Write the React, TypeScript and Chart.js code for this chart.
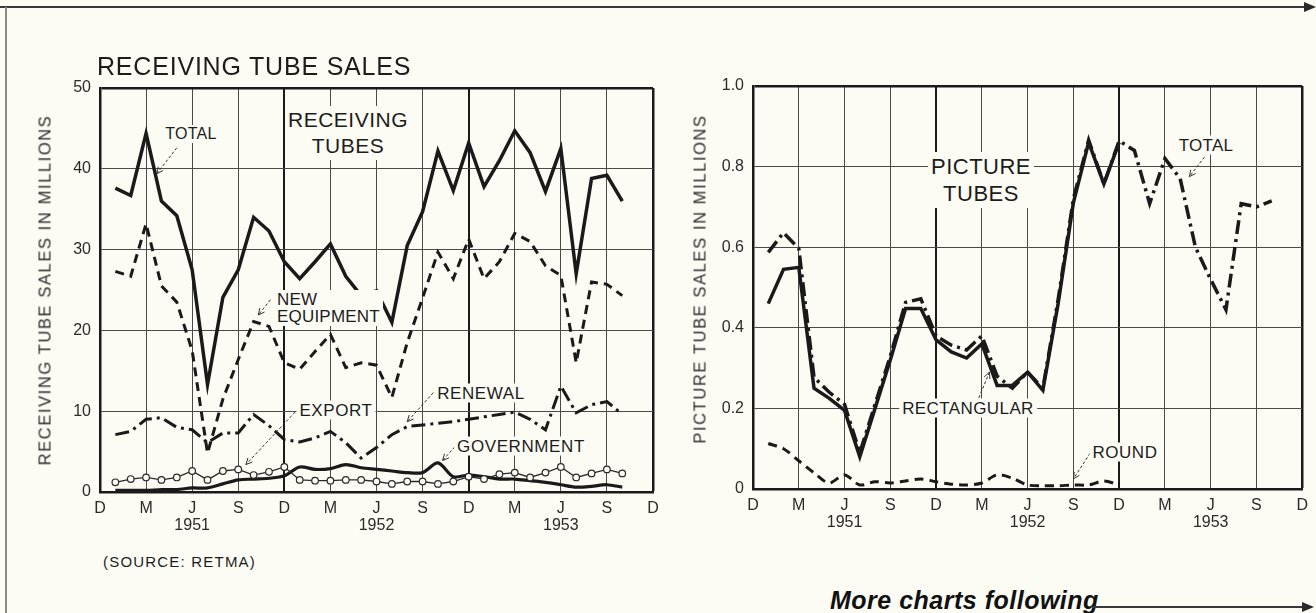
import React, { useEffect, useRef } from 'react';
import { Chart, registerables } from 'chart.js';

Chart.register(...registerables);

// ---------- data ----------
const MONTHS = [
  'Dec 1950',
  'Jan 1951', 'Feb 1951', 'Mar 1951', 'Apr 1951', 'May 1951', 'Jun 1951',
  'Jul 1951', 'Aug 1951', 'Sep 1951', 'Oct 1951', 'Nov 1951', 'Dec 1951',
  'Jan 1952', 'Feb 1952', 'Mar 1952', 'Apr 1952', 'May 1952', 'Jun 1952',
  'Jul 1952', 'Aug 1952', 'Sep 1952', 'Oct 1952', 'Nov 1952', 'Dec 1952',
  'Jan 1953', 'Feb 1953', 'Mar 1953', 'Apr 1953', 'May 1953', 'Jun 1953',
  'Jul 1953', 'Aug 1953', 'Sep 1953', 'Oct 1953', 'Nov 1953', 'Dec 1953',
];
const QUARTER_TICKS = ['D', 'M', 'J', 'S'];
const YEAR_TICKS = ['1951', '1952', '1953'];
const FIRST_MONTH = 1; // every series starts at Jan 1951

// Receiving tubes, millions (Jan 1951 - Oct 1953)
const RECEIVING_TOTAL = [
  37.6, 36.7, 44.4, 36.0, 34.2, 27.5, 13.3, 24.1, 27.5, 34.0, 32.3, 28.5,
  26.4, 28.5, 30.7, 26.7, 24.3, 24.9, 21.0, 30.5, 34.7, 42.2, 37.3, 43.2,
  37.8, 41.0, 44.7, 42.0, 37.2, 42.5, 27.0, 38.8, 39.2, 36.0,
];
const NEW_EQUIPMENT = [
  27.3, 26.7, 33.2, 25.5, 23.5, 17.5, 4.8, 11.5, 16.4, 21.1, 20.5, 16.0,
  15.2, 17.4, 19.5, 15.4, 16.0, 15.7, 11.7, 18.5, 24.0, 29.7, 26.4, 31.3,
  26.4, 28.5, 32.0, 31.0, 28.0, 26.8, 16.0, 26.0, 25.7, 24.3,
];
const RENEWAL = [
  7.1, 7.5, 9.0, 9.2, 8.0, 7.7, 6.1, 7.3, 7.3, 9.6, 8.2, 6.5,
  6.2, 6.7, 7.5, 6.1, 4.2, 5.5, 7.1, 8.1, 8.3, 8.5, 8.7, 9.0,
  9.3, 9.6, 9.9, 9.0, 7.7, 13.1, 9.8, 10.8, 11.2, 9.6,
];
const EXPORT = [
  1.2, 1.6, 1.8, 1.5, 1.8, 2.6, 1.5, 2.6, 2.8, 2.1, 2.5, 3.1,
  1.5, 1.4, 1.4, 1.5, 1.5, 1.3, 1.0, 1.3, 1.3, 1.0, 1.3, 1.9,
  1.6, 2.2, 2.4, 1.8, 2.4, 3.1, 1.8, 2.3, 2.8, 2.3,
];
const GOVERNMENT = [
  0.2, 0.2, 0.2, 0.3, 0.3, 0.5, 0.5, 1.0, 1.5, 1.6, 1.7, 2.0,
  3.1, 2.8, 2.9, 3.4, 3.0, 2.8, 2.6, 2.4, 2.4, 3.6, 1.9, 2.1,
  1.9, 1.6, 1.6, 1.4, 1.2, 0.9, 0.6, 0.7, 0.9, 0.6,
];

// Picture tubes, millions
const PICTURE_TOTAL = [
  0.587, 0.636, 0.597, 0.277, 0.24, 0.21, 0.09, 0.21, 0.33, 0.463, 0.472, 0.38,
  0.357, 0.345, 0.38, 0.28, 0.25, 0.29, 0.25, 0.47, 0.72, 0.866, 0.757, 0.864,
  0.84, 0.708, 0.82, 0.77, 0.6, 0.52, 0.445, 0.708, 0.7, 0.715,
];
const RECTANGULAR = [
  0.46, 0.545, 0.55, 0.25, 0.225, 0.195, 0.08, 0.2, 0.32, 0.448, 0.448, 0.37,
  0.34, 0.325, 0.36, 0.257, 0.257, 0.29, 0.245, 0.46, 0.71, 0.86, 0.757, 0.86,
];
const ROUND = [
  0.113, 0.1, 0.07, 0.04, 0.015, 0.035, 0.01, 0.018, 0.015, 0.02, 0.025, 0.018,
  0.012, 0.01, 0.015, 0.035, 0.027, 0.01, 0.008, 0.008, 0.01, 0.01, 0.02, 0.01,
];

// ---------- style ----------
const BG = '#fcfcf5';
const INK = '#1a1a1a';
const GRID = '#4a4a4a';
const FONT = "'Liberation Sans', Arial, sans-serif";

const pad = (vals: number[]) =>
  MONTHS.map((_, i) =>
    i >= FIRST_MONTH && i < FIRST_MONTH + vals.length ? vals[i - FIRST_MONTH] : null
  );

type Leader = { from: [number, number]; to: [number, number] };

const makeLeaderPlugin = (items: Leader[]) => ({
  id: 'leaders',
  afterDatasetsDraw(chart: any) {
    const { ctx, scales } = chart;
    const xs = scales.x;
    const ys = scales.y;
    ctx.save();
    ctx.strokeStyle = '#333';
    ctx.lineWidth = 1;
    for (const it of items) {
      const x1 = xs.getPixelForValue(it.from[0]);
      const y1 = ys.getPixelForValue(it.from[1]);
      const x2 = xs.getPixelForValue(it.to[0]);
      const y2 = ys.getPixelForValue(it.to[1]);
      ctx.setLineDash([3, 2]);
      ctx.beginPath();
      ctx.moveTo(x1, y1);
      ctx.lineTo(x2, y2);
      ctx.stroke();
      const a = Math.atan2(y2 - y1, x2 - x1);
      ctx.setLineDash([]);
      ctx.beginPath();
      ctx.moveTo(x2 - 7 * Math.cos(a - 0.45), y2 - 7 * Math.sin(a - 0.45));
      ctx.lineTo(x2, y2);
      ctx.lineTo(x2 - 7 * Math.cos(a + 0.45), y2 - 7 * Math.sin(a + 0.45));
      ctx.stroke();
    }
    ctx.restore();
  },
});

type Geo = {
  yWidth: number;
  xHeight: number;
  padding: { left: number; right: number; top: number; bottom: number };
  yMax: number;
  yStep: number;
  yFmt: (v: number) => string;
};

const makeOptions = (g: Geo): any => ({
  responsive: false,
  animation: false,
  layout: { padding: g.padding },
  plugins: { legend: { display: false }, tooltip: { enabled: false }, title: { display: false } },
  elements: { point: { radius: 0 }, line: { tension: 0 } },
  scales: {
    x: {
      type: 'category',
      offset: false,
      afterFit: (s: any) => {
        s.height = g.xHeight;
      },
      border: { display: true, color: INK, width: 2.5 },
      grid: {
        drawTicks: false,
        color: (c: any) => (c.index % 3 === 0 ? (c.index % 12 === 0 ? INK : GRID) : 'rgba(0,0,0,0)'),
        lineWidth: (c: any) => (c.index === 36 ? 2.5 : c.index % 12 === 0 ? 2 : 1),
      },
      ticks: {
        autoSkip: false,
        maxRotation: 0,
        minRotation: 0,
        padding: 8,
        color: '#2a2a2a',
        font: { family: FONT, size: 16, lineHeight: 1.05 },
        callback: (_v: any, index: number) => {
          if (index % 3 !== 0) return '';
          const q = QUARTER_TICKS[(index / 3) % 4];
          if (index % 12 === 6) return [q, YEAR_TICKS[Math.floor(index / 12)]];
          return q;
        },
      },
    },
    y: {
      type: 'linear',
      min: 0,
      max: g.yMax,
      afterFit: (s: any) => {
        s.width = g.yWidth;
      },
      border: { display: true, color: INK, width: 2.5 },
      grid: {
        drawTicks: false,
        color: (c: any) => (c.tick && Math.abs(c.tick.value - g.yMax) < 1e-9 ? INK : GRID),
        lineWidth: (c: any) => (c.tick && Math.abs(c.tick.value - g.yMax) < 1e-9 ? 2.5 : 1),
      },
      ticks: {
        stepSize: g.yStep,
        padding: 9,
        color: '#2a2a2a',
        font: { family: FONT, size: 16 },
        callback: (v: number) => g.yFmt(v),
      },
    },
  },
});

const LEFT_LEADERS: Leader[] = [
  { from: [5.0, 42.6], to: [3.7, 39.4] },
  { from: [11.1, 23.8], to: [10.3, 21.9] },
  { from: [12.7, 9.9], to: [9.5, 3.4] },
  { from: [21.7, 12.3], to: [20.0, 8.7] },
  { from: [23.1, 5.6], to: [22.3, 3.9] },
];
const RIGHT_LEADERS: Leader[] = [
  { from: [29.6, 0.824], to: [28.6, 0.775] },
  { from: [14.8, 0.226], to: [15.5, 0.29] },
  { from: [22.1, 0.089], to: [21.0, 0.025] },
];

function ReceivingChart() {
  const ref = useRef<HTMLCanvasElement | null>(null);
  useEffect(() => {
    if (!ref.current) return;
    const chart = new Chart(ref.current, {
      type: 'line',
      data: {
        labels: MONTHS,
        datasets: [
          { label: 'Total', data: pad(RECEIVING_TOTAL), borderColor: INK, borderWidth: 3.5, borderJoinStyle: 'miter' },
          { label: 'New equipment', data: pad(NEW_EQUIPMENT), borderColor: INK, borderWidth: 3, borderDash: [9, 6] },
          { label: 'Renewal', data: pad(RENEWAL), borderColor: INK, borderWidth: 3, borderDash: [14, 5, 3, 5] },
          {
            label: 'Export', data: pad(EXPORT), borderColor: '#2a2a2a', borderWidth: 1.3,
            pointRadius: 3.3, pointBackgroundColor: BG, pointBorderColor: '#2a2a2a', pointBorderWidth: 1.2,
          },
          { label: 'Government', data: pad(GOVERNMENT), borderColor: INK, borderWidth: 3.2, tension: 0.3 },
        ],
      } as any,
      options: makeOptions({
        yWidth: 100,
        xHeight: 44,
        padding: { left: 0, right: 27, top: 48, bottom: 4 },
        yMax: 50,
        yStep: 10,
        yFmt: (v) => String(v),
      }),
      plugins: [makeLeaderPlugin(LEFT_LEADERS)],
    });
    return () => chart.destroy();
  }, []);
  return <canvas ref={ref} width={680} height={500} style={{ position: 'absolute', left: 0, top: 40 }} />;
}

function PictureChart() {
  const ref = useRef<HTMLCanvasElement | null>(null);
  useEffect(() => {
    if (!ref.current) return;
    const chart = new Chart(ref.current, {
      type: 'line',
      data: {
        labels: MONTHS,
        datasets: [
          { label: 'Rectangular', data: pad(RECTANGULAR), borderColor: INK, borderWidth: 3.5 },
          { label: 'Total', data: pad(PICTURE_TOTAL), borderColor: INK, borderWidth: 3.5, borderDash: [14, 5, 3, 5] },
          { label: 'Round', data: pad(ROUND), borderColor: INK, borderWidth: 3, borderDash: [9, 6], tension: 0.3 },
        ],
      } as any,
      options: makeOptions({
        yWidth: 113,
        xHeight: 44,
        padding: { left: 0, right: 11, top: 46, bottom: 7 },
        yMax: 1,
        yStep: 0.2,
        yFmt: (v) => (v === 0 ? '0' : v.toFixed(1)),
      }),
      plugins: [makeLeaderPlugin(RIGHT_LEADERS)],
    });
    return () => chart.destroy();
  }, []);
  return <canvas ref={ref} width={676} height={500} style={{ position: 'absolute', left: 640, top: 40 }} />;
}

type LabelSpec = {
  lines: string[];
  x: number;
  y: number;
  size: number;
  ls?: number;
  lh?: number;
  anchor?: 'center' | 'left';
  box?: boolean;
};

const LABELS: LabelSpec[] = [
  { lines: ['RECEIVING TUBE SALES'], x: 97, y: 66, size: 25, ls: 0.8, anchor: 'left', box: false },
  { lines: ['TOTAL'], x: 191, y: 134, size: 16, ls: 0.3 },
  { lines: ['RECEIVING', 'TUBES'], x: 348, y: 133, size: 21, ls: 0.5, lh: 26 },
  { lines: ['NEW', 'EQUIPMENT'], x: 274, y: 308, size: 17, ls: 0.2, lh: 17, anchor: 'left' },
  { lines: ['EXPORT'], x: 336, y: 410, size: 17, ls: 0.6 },
  { lines: ['RENEWAL'], x: 481, y: 393, size: 17, ls: 0.6 },
  { lines: ['GOVERNMENT'], x: 521, y: 446, size: 17, ls: 0.6 },
  { lines: ['(SOURCE: RETMA)'], x: 103, y: 561, size: 15, ls: 1.2, anchor: 'left', box: false },
  { lines: ['PICTURE', 'TUBES'], x: 981, y: 180, size: 22, ls: 0.5, lh: 27 },
  { lines: ['TOTAL'], x: 1206, y: 145, size: 17, ls: 0.3 },
  { lines: ['RECTANGULAR'], x: 968, y: 408, size: 17, ls: 0.4 },
  { lines: ['ROUND'], x: 1125, y: 452, size: 17, ls: 0.5 },
];

function Label({ s }: { s: LabelSpec }) {
  const lh = s.lh ?? s.size;
  return (
    <div
      style={{
        position: 'absolute',
        left: s.x,
        top: s.y,
        transform: s.anchor === 'left' ? 'translate(0,-50%)' : 'translate(-50%,-50%)',
        fontFamily: FONT,
        fontSize: s.size,
        letterSpacing: s.ls ?? 0,
        lineHeight: `${lh}px`,
        color: '#1c1c1c',
        background: s.box === false ? 'transparent' : BG,
        padding: s.box === false ? 0 : '1px 3px',
        textAlign: s.anchor === 'left' ? 'left' : 'center',
        whiteSpace: 'nowrap',
      }}
    >
      {s.lines.map((l, i) => (
        <div key={i}>{l}</div>
      ))}
    </div>
  );
}

function AxisTitle({ text, x, y }: { text: string; x: number; y: number }) {
  return (
    <div
      style={{
        position: 'absolute',
        left: x,
        top: y,
        transform: 'translate(-50%,-50%) rotate(-90deg)',
        fontFamily: FONT,
        fontSize: 16.5,
        letterSpacing: 1.6,
        color: '#2a2a2a',
        whiteSpace: 'nowrap',
      }}
    >
      {text}
    </div>
  );
}

export default function App() {
  return (
    <div
      style={{
        position: 'absolute',
        left: 0,
        top: 0,
        width: 1316,
        height: 613,
        overflow: 'hidden',
        background: BG,
      }}
    >
      {/* page rules */}
      <div style={{ position: 'absolute', left: 0, top: 6, width: 1308, height: 2, background: '#3a3a3a' }} />
      <div
        style={{
          position: 'absolute', left: 1304, top: 2, width: 0, height: 0,
          borderTop: '5px solid transparent', borderBottom: '5px solid transparent', borderLeft: '12px solid #2a2a2a',
        }}
      />
      <div style={{ position: 'absolute', left: 5, top: 7, width: 1.5, height: 606, background: '#8a8a80' }} />

      <ReceivingChart />
      <PictureChart />

      <AxisTitle text="RECEIVING TUBE SALES IN MILLIONS" x={45} y={290} />
      <AxisTitle text="PICTURE TUBE SALES IN MILLIONS" x={700} y={279} />
      {LABELS.map((s, i) => (
        <Label key={i} s={s} />
      ))}

      <div
        style={{
          position: 'absolute', left: 830, top: 586, fontFamily: FONT, fontStyle: 'italic',
          fontWeight: 'bold', fontSize: 25, color: '#111', whiteSpace: 'nowrap', letterSpacing: 0.5,
        }}
      >
        More charts following
      </div>
      <div style={{ position: 'absolute', left: 1092, top: 606, width: 212, height: 2, background: '#3a3a3a' }} />
      <div
        style={{
          position: 'absolute', left: 1302, top: 602, width: 0, height: 0,
          borderTop: '5px solid transparent', borderBottom: '5px solid transparent', borderLeft: '12px solid #2a2a2a',
        }}
      />
    </div>
  );
}
